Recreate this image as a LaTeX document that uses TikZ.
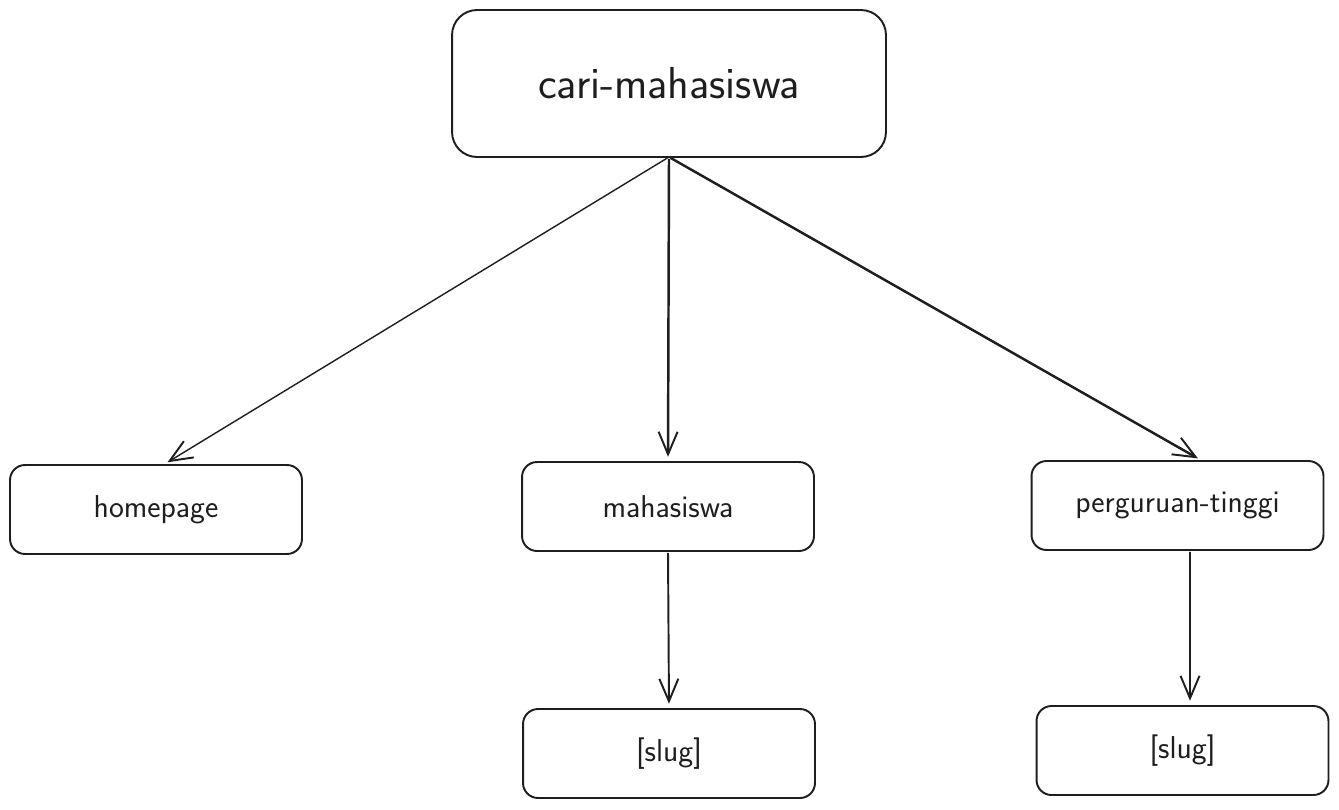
\documentclass[tikz,border=0pt]{standalone}
\usetikzlibrary{arrows.meta}
\definecolor{ink}{HTML}{1E1E1E}
\tikzset{
    page/.style={draw=ink, text=ink, line width=1.1pt, rounded corners=0.3cm, inner sep=0pt, outer sep=0pt,
        minimum width=5.84cm, minimum height=1.78cm, font=\sffamily\fontsize{18}{21}\selectfont},
    root/.style={page, rounded corners=0.5cm, minimum width=8.68cm, minimum height=2.94cm,
        font=\sffamily\fontsize{25.5}{30}\selectfont},
    link/.style={draw=ink, line width=1.1pt, shorten >=3pt, shorten <=1pt,
        -{Straight Barb[length=0.45cm,width=0.38cm,line width=1.1pt]}}
}

\begin{document}
\begin{tikzpicture}[x=0.02cm,y=-0.02cm]
    \useasboundingbox (0,0) rectangle (1339,809);
    \path 
        (669,83.5) node[root] (app) {cari-mahasiswa}
        (156,509.5) node[page] (home) {homepage}
        (668,506.5) node[page] (mhs) {mahasiswa}
        (1177.5,505.5) node[page] (pt) {perguruan-tinggi}
        (669,753.5) node[page] (mhsslug) {[slug]}
        (1182.5,750.5) node[page] (ptslug) {[slug]}; % --
    \draw[link, line width=0.8pt] (app.south) -- ([xshift=0.14cm]home.north);
    \draw[link, line width=1.4pt] (app.south) -- (mhs.north);
    \draw[link, line width=1.4pt] (app.south) -- ([xshift=0.5cm]pt.north);
    \draw[link] (mhs.south) -- (mhsslug.north);
    \draw[link] ([xshift=0.25cm]pt.south) -- ([xshift=0.15cm]ptslug.north);
\end{tikzpicture}
\end{document}
